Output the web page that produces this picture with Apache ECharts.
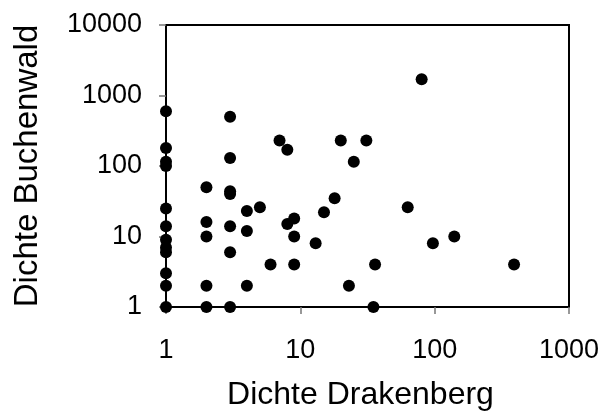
<!DOCTYPE html>
<html>
<head>
<meta charset="utf-8">
<script src="https://cdn.jsdelivr.net/npm/echarts@6/dist/echarts.min.js"></script>
<style>
  html, body { margin: 0; padding: 0; background: #fff; }
  #chart { width: 603px; height: 412px; }
</style>
</head>
<body>
<div id="chart"></div>
<script>
// Population density per species: Drakenberg (x) vs. Buchenwald (y)
const drakenberg = [
  1, 1, 1, 1, 1, 1, 1, 1, 1, 1, 1, 1,
  2, 2, 2, 2, 2,
  3, 3, 3, 3, 3, 3, 3,
  4, 4, 4,
  5, 6, 7, 8, 8, 9, 9, 9,
  13, 15, 18, 20, 23, 25, 31, 35, 36,
  63, 80, 97, 140, 390
];
const buchenwald = [
  1, 2, 3, 6, 7, 9, 14, 25, 100, 115, 180, 600,
  1, 2, 10, 16, 50,
  1, 6, 14, 40, 44, 130, 500,
  2, 12, 23,
  26, 4, 230, 15, 170, 4, 10, 18,
  8, 22, 35, 230, 2, 115, 230, 1, 4,
  26, 1700, 8, 10, 4
];
const xAxisTitle = 'Dichte Drakenberg';
const yAxisTitle = 'Dichte Buchenwald';

const points = drakenberg.map((x, i) => [x, buchenwald[i]]);

const font = 'Liberation Sans, Arial, sans-serif';
const chart = echarts.init(document.getElementById('chart'), null, { renderer: 'canvas' });

chart.setOption({
  backgroundColor: '#ffffff',
  animation: false,
  grid: {
    left: 166, right: 34, top: 25, bottom: 105,
    containLabel: false, outerBoundsMode: 'none',
    show: true, borderColor: '#000', borderWidth: 2, backgroundColor: 'transparent'
  },
  xAxis: {
    type: 'log', logBase: 10, min: 1, max: 1000,
    name: xAxisTitle, nameLocation: 'middle', nameGap: 72,
    nameTextStyle: { fontFamily: font, fontSize: 32, color: '#000', padding: [0, 14, 0, 0] },
    axisLine: { show: true, lineStyle: { color: '#000', width: 2 } },
    axisTick: { show: true, length: 7, lineStyle: { color: '#777', width: 1.5 } },
    axisLabel: { margin: 30, fontFamily: font, fontSize: 27, color: '#000',
      formatter: v => String(Math.round(v)) },
    splitLine: { show: false },
    minorTick: { show: false }
  },
  yAxis: {
    type: 'log', logBase: 10, min: 1, max: 10000,
    name: yAxisTitle, nameLocation: 'middle', nameGap: 122,
    nameTextStyle: { fontFamily: font, fontSize: 33, color: '#000' },
    axisLine: { show: true, lineStyle: { color: '#000', width: 2 } },
    axisTick: { show: true, length: 7, lineStyle: { color: '#777', width: 1.5 } },
    axisLabel: { margin: 24, fontFamily: font, fontSize: 27, color: '#000',
      formatter: v => String(Math.round(v)) },
    splitLine: { show: false },
    minorTick: { show: false }
  },
  series: [{
    type: 'scatter',
    data: points,
    symbol: 'circle',
    symbolSize: 12,
    clip: false,
    itemStyle: { color: '#000', opacity: 1 }
  }]
});
</script>
</body>
</html>
